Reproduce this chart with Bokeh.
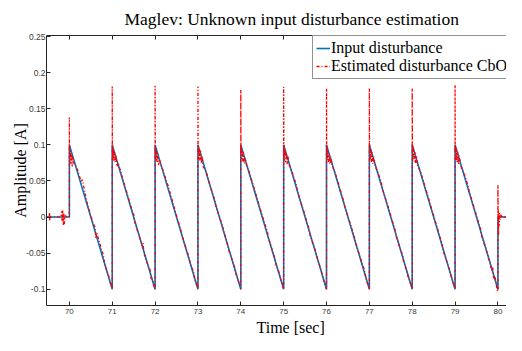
from bokeh.plotting import figure
from bokeh.models import LinearAxis, Legend, LegendItem, FixedTicker, Range1d, Title
from bokeh.embed import file_html
from bokeh.resources import INLINE

# ---- data ----
x_ticks = [70, 71, 72, 73, 74, 75, 76, 77, 78, 79, 80]
y_ticks = [-0.1, -0.05, 0, 0.05, 0.1, 0.15, 0.2, 0.25]
y_tick_labels = ["-0.1", "-0.05", "0", "0.05", "0.1", "0.15", "0.2", "0.25"]

input_t = [69.45, 70.0, 70.0, 71.0, 71.0, 72.0, 72.0, 73.0, 73.0, 74.0, 74.0, 75.0, 75.0,
           76.0, 76.0, 77.0, 77.0, 78.0, 78.0, 79.0, 79.0, 80.0, 80.0, 80.4]
input_v = [0, 0, 0.1, -0.1, 0.1, -0.1, 0.1, -0.1, 0.1, -0.1, 0.1, -0.1, 0.1,
           -0.1, 0.1, -0.1, 0.1, -0.1, 0.1, -0.1, 0.1, -0.1, 0, 0]

est_t = [
    69.45, 69.53, 69.535, 69.54, 69.545, 69.55, 69.8, 69.82, 69.83, 69.84, 69.86, 69.87, 69.88, 69.9, 69.95, 70.0,
    70.0, 70.003, 70.008, 70.015, 70.025, 70.035, 70.05, 70.065, 70.08, 70.1, 70.13, 70.16, 70.2, 70.28, 70.3, 70.42, 70.55, 70.6, 70.62, 70.64, 70.75, 70.78, 70.8, 70.82, 70.9, 70.95, 71.0,
    71.0, 71.004, 71.01, 71.018, 71.028, 71.04, 71.055, 71.07, 71.09, 71.11, 71.14, 71.2, 71.25, 71.3, 71.45, 71.5, 71.52, 71.7, 71.72, 71.74, 71.85, 71.88, 71.9, 71.93, 71.97, 72.0,
    72.0, 72.004, 72.01, 72.02, 72.03, 72.045, 72.06, 72.08, 72.1, 72.13, 72.2, 72.3, 72.33, 72.5, 72.6, 72.62, 72.75, 72.8, 72.82, 72.9, 72.92, 72.96, 73.0,
    73.0, 73.004, 73.01, 73.02, 73.03, 73.045, 73.06, 73.08, 73.1, 73.12, 73.2, 73.25, 73.4, 73.42, 73.55, 73.7, 73.72, 73.8, 73.85, 73.88, 73.92, 73.96, 74.0,
    74.0, 74.004, 74.01, 74.02, 74.03, 74.045, 74.06, 74.08, 74.1, 74.14, 74.2, 74.35, 74.38, 74.5, 74.62, 74.65, 74.8, 74.82, 74.9, 74.93, 74.97, 75.0,
    75.0, 75.004, 75.01, 75.02, 75.03, 75.045, 75.06, 75.08, 75.1, 75.13, 75.2, 75.3, 75.32, 75.48, 75.6, 75.62, 75.75, 75.78, 75.88, 75.9, 75.95, 76.0,
    76.0, 76.004, 76.01, 76.02, 76.03, 76.045, 76.06, 76.08, 76.1, 76.14, 76.2, 76.4, 76.42, 76.55, 76.65, 76.68, 76.8, 76.85, 76.88, 76.92, 76.96, 77.0,
    77.0, 77.004, 77.01, 77.02, 77.03, 77.045, 77.06, 77.08, 77.1, 77.13, 77.2, 77.28, 77.3, 77.45, 77.6, 77.62, 77.78, 77.8, 77.87, 77.9, 77.95, 78.0,
    78.0, 78.004, 78.01, 78.02, 78.03, 78.045, 78.06, 78.08, 78.1, 78.12, 78.2, 78.35, 78.38, 78.5, 78.7, 78.72, 78.85, 78.88, 78.92, 78.96, 79.0,
    79.0, 79.004, 79.01, 79.02, 79.03, 79.045, 79.06, 79.08, 79.1, 79.13, 79.2, 79.3, 79.33, 79.45, 79.6, 79.62, 79.75, 79.78, 79.82, 79.85, 79.88, 79.9, 79.93, 79.96, 79.99, 80.0,
    80.0, 80.005, 80.01, 80.015, 80.02, 80.03, 80.04, 80.05, 80.06, 80.08, 80.1, 80.12, 80.15, 80.4,
]
est_v = [
    0, 0, 0.006, -0.005, 0.004, 0, 0, 0.008, -0.006, 0.01, -0.012, 0.006, -0.01, 0.002, 0, 0,
    0.138, 0.09, 0.098, 0.076, 0.092, 0.074, 0.088, 0.07, 0.084, 0.075, 0.072, 0.07, 0.064, 0.048, 0.052, 0.018, -0.008, -0.014, -0.03, -0.022, -0.045, -0.05, -0.055, -0.066, -0.078, -0.09, -0.1,
    0.181, 0.088, 0.1, 0.08, 0.094, 0.078, 0.09, 0.076, 0.086, 0.07, 0.075, 0.062, 0.052, 0.042, 0.012, 0.004, -0.006, -0.04, -0.036, -0.05, -0.07, -0.072, -0.084, -0.086, -0.095, -0.1,
    0.182, 0.086, 0.098, 0.079, 0.093, 0.075, 0.088, 0.072, 0.08, 0.074, 0.062, 0.044, 0.038, 0.002, -0.018, -0.024, -0.048, -0.058, -0.064, -0.076, -0.086, -0.092, -0.1,
    0.181, 0.09, 0.1, 0.08, 0.095, 0.078, 0.092, 0.074, 0.084, 0.07, 0.062, 0.05, 0.022, 0.014, -0.008, -0.04, -0.046, -0.06, -0.068, -0.078, -0.084, -0.092, -0.1,
    0.176, 0.09, 0.098, 0.08, 0.094, 0.077, 0.09, 0.074, 0.082, 0.07, 0.062, 0.032, 0.026, 0.002, -0.02, -0.03, -0.058, -0.066, -0.078, -0.086, -0.094, -0.1,
    0.18, 0.088, 0.1, 0.078, 0.094, 0.076, 0.09, 0.073, 0.084, 0.072, 0.062, 0.044, 0.036, 0.006, -0.018, -0.026, -0.048, -0.056, -0.074, -0.082, -0.09, -0.1,
    0.178, 0.09, 0.098, 0.079, 0.092, 0.076, 0.088, 0.073, 0.083, 0.07, 0.062, 0.022, 0.016, -0.008, -0.028, -0.036, -0.058, -0.068, -0.072, -0.084, -0.093, -0.1,
    0.178, 0.088, 0.1, 0.08, 0.094, 0.076, 0.09, 0.074, 0.084, 0.071, 0.062, 0.048, 0.04, 0.012, -0.018, -0.026, -0.054, -0.062, -0.074, -0.082, -0.09, -0.1,
    0.178, 0.09, 0.1, 0.08, 0.095, 0.077, 0.091, 0.074, 0.085, 0.072, 0.062, 0.032, 0.026, 0.002, -0.038, -0.046, -0.07, -0.074, -0.084, -0.092, -0.1,
    0.183, 0.09, 0.1, 0.079, 0.095, 0.076, 0.09, 0.073, 0.085, 0.071, 0.062, 0.044, 0.036, 0.012, -0.018, -0.026, -0.05, -0.058, -0.062, -0.074, -0.07, -0.086, -0.082, -0.094, -0.103, -0.1,
    0.044, 0.0, 0.01, -0.025, 0.004, -0.012, 0.006, 0.002, -0.004, 0.003, 0, 0.002, 0, 0,
]

SERIF = "Liberation Serif"
AX = "#262626"

p = figure(width=506, height=335, output_backend="svg", toolbar_location=None,
           x_range=Range1d(69.466, 80.2), y_range=Range1d(-0.1225, 0.2515),
           min_border_left=46, min_border_right=0, min_border_top=0, min_border_bottom=0,
           title="Maglev: Unknown input disturbance estimation")
p.title.text_font = SERIF
p.title.text_font_size = "17.5px"
p.title.text_font_style = "normal"
p.title.text_color = "#000000"
p.title.align = "left"
p.title.offset = 78
p.title.standoff = 13

p.xgrid.visible = False
p.ygrid.visible = False
p.outline_line_color = None

bottom_axis = p.xaxis[0]
left_axis = p.yaxis[0]
top_axis = LinearAxis(ticker=FixedTicker(ticks=x_ticks),
                      major_label_overrides={t: "" for t in x_ticks})
p.add_layout(top_axis, "above")

for ax in [bottom_axis, left_axis, top_axis]:
    ax.axis_line_color = AX
    ax.axis_line_width = 1
    ax.major_tick_line_color = AX
    ax.major_tick_in = 4
    ax.major_tick_out = 0
    ax.minor_tick_line_color = None
    ax.major_label_text_font = "Liberation Sans"
    ax.major_label_text_font_size = "8px"
    ax.major_label_text_color = "#3a3a3a"
    ax.major_label_text_line_height = 1.0

left_axis.major_label_text_font_size = "8.5px"
top_axis.major_label_standoff = 0
bottom_axis.ticker = FixedTicker(ticks=x_ticks)
left_axis.ticker = FixedTicker(ticks=y_ticks)
left_axis.major_label_overrides = {t: l for t, l in zip(y_ticks, y_tick_labels)}
bottom_axis.major_label_standoff = 3
left_axis.major_label_standoff = 1

left_axis.axis_label = "Amplitude [A]"
left_axis.axis_label_text_font = SERIF
left_axis.axis_label_text_font_size = "16px"
left_axis.axis_label_text_font_style = "normal"
left_axis.axis_label_text_color = "#000000"
left_axis.axis_label_standoff = -6

xlabel = Title(text="Time [sec]", align="left", offset=210, standoff=0,
               text_font=SERIF, text_font_size="16px", text_font_style="normal",
               text_color="#000000", text_line_height=1.0)
p.add_layout(xlabel, "below")

r_in = p.line(input_t, input_v, line_color="#0072BD", line_width=1.6)
r_est = p.line(est_t, est_v, line_color="#FF0000", line_width=1.3, line_dash="3 2 1 2")

legend = Legend(items=[LegendItem(label="Input disturbance", renderers=[r_in]),
                       LegendItem(label="Estimated disturbance CbO", renderers=[r_est])],
                location=(266, 226))
legend.label_text_font = SERIF
legend.label_text_font_size = "16px"
legend.label_text_line_height = 0.9
legend.label_text_color = "#000000"
legend.border_line_color = AX
legend.border_line_width = 1
legend.background_fill_color = "white"
legend.background_fill_alpha = 1
legend.padding = 3
legend.spacing = 0
legend.margin = 0
legend.glyph_width = 14
legend.glyph_height = 16
legend.label_height = 16
legend.label_standoff = 1
p.add_layout(legend, "center")

open("out.html", "w").write(file_html(p, INLINE))
